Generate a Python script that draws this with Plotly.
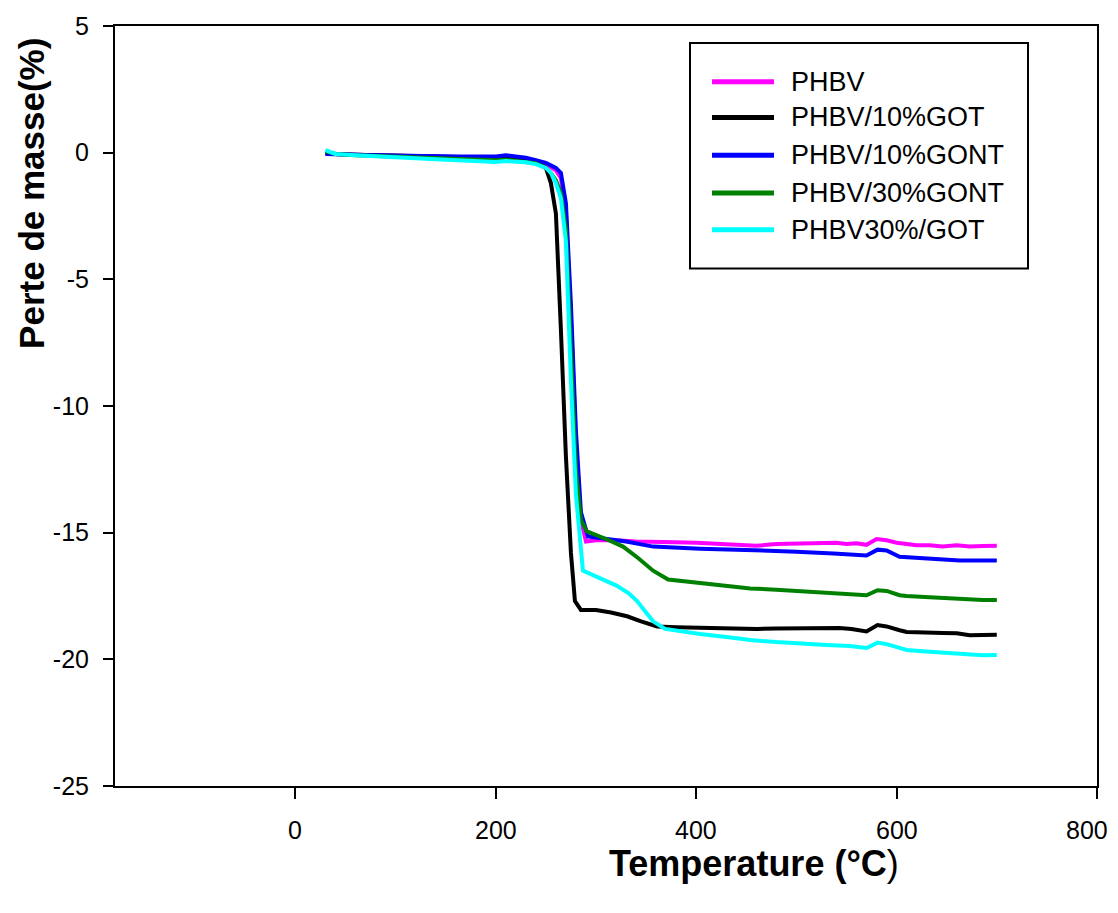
import plotly.graph_objects as go

# ---------------- data ----------------
names = ["PHBV", "PHBV/10%GOT", "PHBV/10%GONT", "PHBV/30%GONT", "PHBV30%/GOT"]
colors = ["#FF00FF", "#000000", "#0000FF", "#008000", "#00FFFF"]

phbv_x = [30, 40, 60, 80, 100, 120, 140, 160, 180, 200, 210, 220, 230, 240, 250, 260, 265, 270, 275, 280, 285, 290,
          300, 320, 340, 360, 380, 400, 420, 440, 460, 480, 500, 520, 540, 550, 560, 570, 580, 590, 600, 610, 620,
          633, 646, 660, 673, 686, 700]
phbv_y = [0.0, -0.05, -0.08, -0.1, -0.13, -0.15, -0.17, -0.18, -0.2, -0.22, -0.2, -0.25, -0.28, -0.35, -0.45, -0.7,
          -1.0, -2.4, -6.5, -11.5, -14.5, -15.35, -15.3, -15.3, -15.35, -15.35, -15.38, -15.4, -15.43, -15.48, -15.52,
          -15.45, -15.43, -15.42, -15.4, -15.45, -15.42, -15.48, -15.25, -15.3, -15.4, -15.45, -15.5, -15.5, -15.55,
          -15.5, -15.55, -15.53, -15.52]

got10_x = [30, 40, 60, 80, 100, 120, 140, 160, 180, 200, 210, 220, 230, 240, 250, 255, 260, 265, 270, 275, 279, 285,
           300, 315, 331, 345, 361, 380, 404, 430, 461, 480, 503, 520, 543, 555, 570, 581, 590, 603, 610, 620, 633,
           646, 660, 673, 686, 700]
got10_y = [0.0, -0.05, -0.08, -0.1, -0.13, -0.15, -0.17, -0.18, -0.2, -0.2, -0.18, -0.22, -0.27, -0.35, -0.6, -1.2,
           -2.4, -7.0, -12.0, -15.8, -17.7, -18.05, -18.05, -18.15, -18.3, -18.5, -18.7, -18.73, -18.76, -18.78, -18.8,
           -18.78, -18.77, -18.77, -18.76, -18.8, -18.9, -18.65, -18.7, -18.85, -18.92, -18.93, -18.96, -18.96,
           -18.97, -19.05, -19.04, -19.03]

gont10_x = [30, 40, 60, 80, 100, 120, 140, 160, 180, 200, 210, 220, 230, 240, 250, 260, 265, 270, 275, 280, 285, 292,
            310, 330, 357, 380, 404, 440, 470, 500, 537, 555, 570, 581, 590, 603, 610, 625, 640, 663, 680, 700]
gont10_y = [-0.05, -0.07, -0.08, -0.1, -0.12, -0.13, -0.14, -0.15, -0.15, -0.15, -0.1, -0.15, -0.2, -0.3, -0.4,
            -0.6, -0.8, -2.0, -6.0, -11.0, -14.2, -15.15, -15.25, -15.35, -15.55, -15.6, -15.63, -15.67, -15.7,
            -15.75, -15.82, -15.85, -15.9, -15.67, -15.7, -15.95, -15.97, -16.0, -16.05, -16.1, -16.1, -16.1]

gont30_x = [30, 40, 60, 80, 100, 120, 140, 160, 180, 200, 210, 220, 230, 240, 250, 255, 260, 265, 270, 275, 280, 285,
            291, 310, 327, 342, 357, 372, 404, 430, 454, 480, 503, 530, 553, 570, 581, 590, 603, 610, 633, 646, 660,
            673, 686, 700]
gont30_y = [0.05, -0.05, -0.1, -0.13, -0.17, -0.2, -0.23, -0.26, -0.3, -0.3, -0.28, -0.32, -0.36, -0.42, -0.6, -0.8,
            -1.1, -1.6, -3.0, -8.0, -12.5, -14.5, -14.95, -15.25, -15.55, -16.0, -16.5, -16.85, -17.0, -17.1, -17.2,
            -17.25, -17.3, -17.35, -17.4, -17.47, -17.27, -17.3, -17.47, -17.5, -17.55, -17.58, -17.6, -17.66, -17.66,
            -17.66]

got30_x = [30, 40, 60, 80, 100, 120, 140, 160, 180, 200, 210, 220, 230, 240, 250, 255, 260, 265, 270, 275, 280, 287,
           305, 321, 333, 341, 349, 357, 369, 385, 404, 430, 454, 480, 503, 530, 553, 570, 581, 590, 603, 610, 633,
           646, 660, 673, 686, 700]
got30_y = [0.1, -0.05, -0.1, -0.13, -0.18, -0.22, -0.26, -0.3, -0.35, -0.37, -0.33, -0.35, -0.38, -0.45, -0.6, -0.8,
           -1.2, -1.8, -3.5, -9.0, -13.5, -16.5, -16.8, -17.1, -17.4, -17.7, -18.1, -18.5, -18.8, -18.9, -19.0, -19.12,
           -19.24, -19.32, -19.38, -19.43, -19.47, -19.55, -19.34, -19.4, -19.55, -19.63, -19.7, -19.73, -19.77,
           -19.83, -19.84, -19.83]

series_x = [phbv_x, got10_x, gont10_x, gont30_x, got30_x]
series_y = [phbv_y, got10_y, gont10_y, gont30_y, got30_y]

x_ticks = [0, 200, 400, 600, 800]
x_ticktext = ["0", "200", "400", "600", "800"]
y_ticks = [5, 0, -5, -10, -15, -20, -25]
y_ticktext = ["5", "0", "-5", "-10", "-15", "-20", "-25"]

x_title = "<b>Temperature (°C</b>)"
y_title = "<b>Perte de masse(%)</b>"

# ---------------- figure ----------------
FONT = "Liberation Sans, Arial, sans-serif"
fig = go.Figure()
for n, c, xs, ys in zip(names, colors, series_x, series_y):
    fig.add_trace(go.Scatter(x=xs, y=ys, mode="lines", name=n,
                             line=dict(color=c, width=4), showlegend=False))

L, R, T, B = 115, 21, 21, 127
W, H = 1118, 913
pw, ph = W - L - R, H - T - B

def px(xp):
    return (xp - L) / pw

def py(yp):
    return (H - B - yp) / ph

fig.update_layout(
    width=W, height=H,
    margin=dict(l=L, r=R, t=T, b=B, pad=0),
    paper_bgcolor="white", plot_bgcolor="white",
    font=dict(family=FONT, color="black"),
    xaxis=dict(range=[-180, 800], tickvals=x_ticks, showticklabels=False,
               showgrid=False, zeroline=False, showline=True, linecolor="black", linewidth=2,
               mirror=True, ticks="outside", ticklen=11, tickwidth=2, tickcolor="black"),
    yaxis=dict(range=[-25, 5], tickvals=y_ticks, ticktext=y_ticktext,
               showgrid=False, zeroline=False, showline=True, linecolor="black", linewidth=2,
               mirror=True, ticks="outside", ticklen=10, tickwidth=2, tickcolor="black",
               tickfont=dict(size=25, family=FONT, color="black"), ticklabelstandoff=9),
)

# x tick labels (last one kept inside the page, as in the reference)
for i, (tv, tt) in enumerate(zip(x_ticks, x_ticktext)):
    last = i == len(x_ticks) - 1
    fig.add_annotation(text=tt, x=tv, xref="x", y=py(830), yref="paper", showarrow=False,
                       xanchor="right" if last else "center", yanchor="middle",
                       xshift=13 if last else 0,
                       font=dict(size=25, family=FONT, color="black"))

# axis titles (positioned as in the reference)
fig.add_annotation(text=x_title, xref="paper", yref="paper", x=px(754), y=py(864),
                   showarrow=False, xanchor="center", yanchor="middle",
                   font=dict(size=36, family=FONT, color="black"))
fig.add_annotation(text=y_title, xref="paper", yref="paper", x=px(32), y=py(190),
                   showarrow=False, xanchor="center", yanchor="middle", textangle=-90,
                   font=dict(size=35, family=FONT, color="black"))

# legend box
fig.add_shape(type="rect", xref="paper", yref="paper", x0=px(690), x1=px(1028), y0=py(265), y1=py(38),
              line=dict(color="black", width=2), fillcolor="white", layer="above")
rows = [77, 113, 151, 189, 226]
for n, c, r in zip(names, colors, rows):
    fig.add_shape(type="line", xref="paper", yref="paper", x0=px(712), x1=px(774), y0=py(r), y1=py(r),
                  line=dict(color=c, width=5), layer="above")
    fig.add_annotation(text=n, xref="paper", yref="paper", x=px(789), y=py(r), showarrow=False,
                       xanchor="left", yanchor="middle", font=dict(size=27, family=FONT, color="black"))

fig.write_html("out.html")
